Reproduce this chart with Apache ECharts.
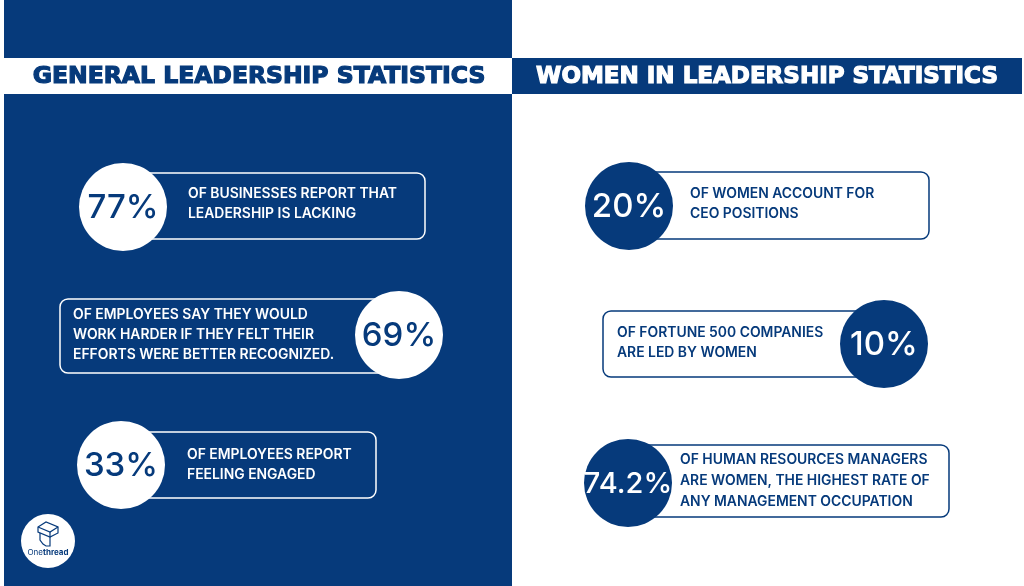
<!DOCTYPE html>
<html>
<head>
<meta charset="utf-8">
<script src="https://cdn.jsdelivr.net/npm/echarts@6/dist/echarts.min.js"></script>
<style>
  html, body { margin: 0; padding: 0; background: #fff; }
  #chart1 { width: 1024px; height: 586px; }
</style>
</head>
<body>
<div id="chart1"></div>
<script>
// data
var leftTitle = 'GENERAL LEADERSHIP STATISTICS';
var rightTitle = 'WOMEN IN LEADERSHIP STATISTICS';
var leftValues = ['77%', '69%', '33%'];
var leftTexts = [
  ['OF BUSINESSES REPORT THAT', 'LEADERSHIP IS LACKING'],
  ['OF EMPLOYEES SAY THEY WOULD', 'WORK HARDER IF THEY FELT THEIR', 'EFFORTS WERE BETTER RECOGNIZED.'],
  ['OF EMPLOYEES REPORT', 'FEELING ENGAGED']
];
var rightValues = ['20%', '10%', '74.2%'];
var rightTexts = [
  ['OF WOMEN ACCOUNT FOR', 'CEO POSITIONS'],
  ['OF FORTUNE 500 COMPANIES', 'ARE LED BY WOMEN'],
  ['OF HUMAN RESOURCES MANAGERS', 'ARE WOMEN, THE HIGHEST RATE OF', 'ANY MANAGEMENT OCCUPATION']
];

var navy = '#063a7b';
var bodyFont = 'Inter';

// card layout: circle centre, box, text start
var cards = [
  { cx: 123, cy: 207, box: [123, 173, 302, 66], tx: 188, ty: 204, lineH: 20 },
  { cx: 399, cy: 335, box: [60, 299, 339, 74], tx: 73, ty: 335, lineH: 20 },
  { cx: 121, cy: 465, box: [121, 432, 255, 66], tx: 187, ty: 465, lineH: 20 },
  { cx: 629, cy: 206, box: [629, 172, 300, 67], tx: 690, ty: 204, lineH: 20 },
  { cx: 884, cy: 344, box: [603, 311, 281, 66], tx: 617, ty: 343, lineH: 20 },
  { cx: 628, cy: 483, box: [628, 445, 321, 72], tx: 680, ty: 481, lineH: 21 }
];

var Chart1 = echarts.init(document.getElementById('chart1'));

var g = [];
// backgrounds
g.push({ type: 'rect', shape: { x: 4, y: 0, width: 508, height: 586 }, style: { fill: navy }, z: 1 });
g.push({ type: 'rect', shape: { x: 0, y: 58, width: 512, height: 36 }, style: { fill: '#fff' }, z: 2 });
g.push({ type: 'rect', shape: { x: 512, y: 58, width: 510, height: 36 }, style: { fill: navy }, z: 2 });
g.push({ type: 'text', x: 259, y: 77, style: { text: leftTitle, fill: navy, stroke: navy, lineWidth: 1.2, font: '900 23.5px "DejaVu Sans"', textAlign: 'center', textVerticalAlign: 'middle' }, z: 3 });
g.push({ type: 'text', x: 767, y: 77, style: { text: rightTitle, fill: '#fff', stroke: '#fff', lineWidth: 1.2, font: '900 23px "DejaVu Sans"', textAlign: 'center', textVerticalAlign: 'middle' }, z: 3 });

var values = leftValues.concat(rightValues);
var texts = leftTexts.concat(rightTexts);
for (var i = 0; i < cards.length; i++) {
  var c = cards[i];
  var isLeft = i < 3;
  var lineColor = isLeft ? '#fff' : navy;
  g.push({
    type: 'rect', z: 4,
    shape: { x: c.box[0], y: c.box[1], width: c.box[2], height: c.box[3], r: 8 },
    style: { fill: isLeft ? navy : '#fff', stroke: lineColor, lineWidth: 1.5 }
  });
  g.push({
    type: 'circle', z: 5,
    shape: { cx: c.cx, cy: c.cy, r: 44 },
    style: { fill: isLeft ? '#fff' : navy }
  });
  g.push({
    type: 'text', z: 6, x: c.cx, y: c.cy + 1,
    style: {
      text: values[i], fill: isLeft ? navy : '#fff',
      font: '500 ' + (values[i].length > 3 ? 29 : 33) + 'px ' + bodyFont,
      textAlign: 'center', textVerticalAlign: 'middle'
    }
  });
  var lines = texts[i];
  var y0 = c.ty - (lines.length - 1) * c.lineH / 2;
  for (var k = 0; k < lines.length; k++) {
    g.push({
      type: 'text', z: 6, x: c.tx, y: y0 + k * c.lineH,
      style: {
        text: lines[k], fill: lineColor,
        font: '600 13.9px ' + bodyFont,
        textAlign: 'left', textVerticalAlign: 'middle'
      }
    });
  }
}

// logo
var ls = { fill: 'none', stroke: navy, lineWidth: 1.2 };
g.push({ type: 'circle', z: 5, shape: { cx: 48, cy: 541, r: 27 }, style: { fill: '#fff' } });
g.push({ type: 'polygon', z: 6, shape: { points: [[38, 527], [46, 522], [58, 527], [58, 533], [50, 537], [38, 532]] }, style: ls });
g.push({ type: 'polyline', z: 6, shape: { points: [[38, 527], [50, 532], [58, 527]] }, style: ls });
g.push({ type: 'line', z: 6, shape: { x1: 50, y1: 532, x2: 50, y2: 537 }, style: ls });
g.push({ type: 'polyline', z: 6, shape: { points: [[40, 533], [40, 540], [43, 544], [46, 546], [50, 546], [50, 537]] }, style: ls });
g.push({
  type: 'text', z: 6, x: 48, y: 553,
  style: {
    text: '{a|One}{b|thread}', textAlign: 'center', textVerticalAlign: 'middle',
    rich: {
      a: { fill: navy, font: '400 8px ' + bodyFont },
      b: { fill: navy, font: '700 8px ' + bodyFont }
    }
  }
});

var option1 = {
  backgroundColor: '#fff',
  animation: false,
  graphic: { elements: g }
};
Chart1.setOption(option1);

window.onresize = function () {
  Chart1.resize();
};
</script>
</body>
</html>
